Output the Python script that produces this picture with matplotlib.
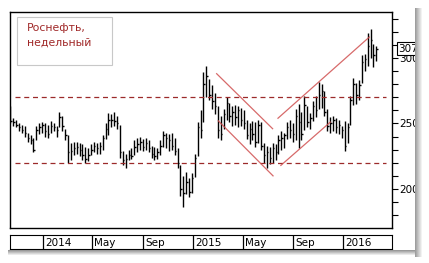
import matplotlib
matplotlib.use("Agg")
import matplotlib.pyplot as plt
import matplotlib.dates as mdates
import matplotlib.ticker as ticker
from matplotlib.patches import Rectangle
import numpy as np
import pandas as pd

# ── Данные: недельные бары Роснефти ─────────────────────────────────────────
start = "2013-10-14"
high = [263, 254, 253, 250, 249, 248, 243, 241, 239, 248, 250, 251, 250, 249, 252, 250,
        248, 259, 256, 246, 241, 235, 236, 236, 235, 234, 232, 231, 234, 236, 235, 236,
        241, 250, 258, 257, 259, 256, 249, 229, 227, 230, 231, 237, 239, 240, 238, 239,
        237, 233, 232, 231, 237, 244, 243, 242, 243, 239, 231, 218, 210, 213, 208, 212,
        227, 251, 260, 289, 294, 284, 279, 273, 263, 256, 261, 270, 266, 263, 264, 263,
        262, 260, 253, 250, 252, 251, 253, 251, 235, 233, 232, 235, 234, 241, 244, 243,
        251, 253, 250, 261, 265, 259, 271, 263, 258, 267, 271, 282, 280, 275, 261, 255,
        256, 254, 253, 248, 252, 250, 271, 285, 281, 283, 302, 303, 319, 322, 311, 309]
low = [250, 248, 247, 244, 243, 240, 236, 234, 228, 237, 242, 243, 240, 239, 243, 244,
       240, 247, 244, 237, 220, 222, 226, 227, 225, 222, 220, 221, 226, 228, 227, 227,
       230, 238, 241, 247, 248, 246, 224, 218, 216, 222, 223, 226, 228, 230, 229, 230,
       228, 224, 222, 223, 226, 232, 231, 229, 230, 226, 216, 195, 186, 196, 194, 197,
       209, 225, 239, 251, 270, 268, 261, 257, 239, 237, 246, 253, 251, 248, 249, 247,
       248, 246, 238, 234, 237, 232, 235, 230, 220, 216, 219, 220, 222, 227, 230, 231,
       238, 239, 236, 237, 231, 237, 245, 247, 246, 252, 255, 261, 262, 256, 244, 243,
       244, 243, 242, 239, 229, 235, 249, 264, 265, 268, 281, 290, 294, 300, 293, 298]
close = [252, 251, 249, 247, 245, 243, 239, 237, 230, 245, 247, 249, 244, 242, 248, 247,
         245, 255, 248, 241, 228, 229, 231, 232, 230, 226, 223, 226, 230, 233, 231, 233,
         239, 246, 253, 253, 252, 250, 228, 222, 223, 226, 225, 232, 234, 236, 232, 235,
         231, 227, 225, 228, 233, 241, 239, 237, 233, 229, 220, 200, 197, 205, 198, 208,
         224, 247, 245, 280, 286, 272, 267, 263, 245, 242, 257, 266, 256, 259, 255, 260,
         253, 250, 241, 246, 242, 236, 249, 233, 226, 228, 224, 231, 228, 237, 239, 241,
         247, 245, 242, 256, 251, 242, 264, 251, 254, 263, 260, 272, 275, 259, 248, 250,
         253, 247, 249, 245, 233, 247, 268, 280, 272, 279, 297, 299, 309, 314, 302, 307]

levels = [270, 220]   # горизонтальные уровни

# трендовые линии: (дата1, цена1, дата2, цена2)
trend_lines = [
    ("2015-02-27", 288, "2015-07-13", 246),
    ("2015-03-03", 252, "2015-07-14", 210),
    ("2015-07-26", 254, "2016-03-04", 316),
    ("2015-08-02", 218, "2015-11-30", 251),
]

month_labels = ["2014", "May", "Sep", "2015", "May", "Sep", "2016"]
month_dates = ["2014-01-01", "2014-05-01", "2014-09-01", "2015-01-01",
               "2015-05-01", "2015-09-01", "2016-01-01"]
# ─────────────────────────────────────────────────────────────────────────────

plt.rcParams["font.family"] = "DejaVu Sans"

W, H = 429, 263
fig = plt.figure(figsize=(W / 100, H / 100), dpi=100, facecolor="white")

def box(x0, y0, x1, y1):
    return [x0 / W, 1 - y1 / H, (x1 - x0) / W, (y1 - y0) / H]

ax = fig.add_axes(box(10, 12, 392, 228))
ax_d = fig.add_axes(box(10, 235, 392, 249))

dates = mdates.date2num(pd.date_range(start, periods=len(close), freq="7D"))
xmin = mdates.datestr2num("2013-10-13")
xmax = mdates.datestr2num("2016-04-28")

ax.vlines(dates, low, high, color="black", lw=1.0)
ax.hlines(close, dates, dates + 3.5, color="black", lw=1.0)

for lv in levels:
    ax.axhline(lv, xmin=0.012, xmax=0.985, color="#9c2a2a", lw=0.9,
               dashes=(4, 3))

for d1, p1, d2, p2 in trend_lines:
    ax.plot([mdates.datestr2num(d1), mdates.datestr2num(d2)], [p1, p2],
            color="#d05050", lw=0.9, alpha=0.85)

ax.set_xlim(xmin, xmax)
ax.set_ylim(170.2, 335.1)
ax.set_xticks([])
ax.yaxis.tick_right()
ax.set_yticks([200, 250, 300])
ax.yaxis.set_minor_locator(ticker.MultipleLocator(10))
ax.tick_params(axis="y", which="major", length=4.5, width=0.8, labelsize=7.5, pad=1)
ax.tick_params(axis="y", which="minor", length=4.5, width=0.8)
for s in ax.spines.values():
    s.set_linewidth(1.0)

# последняя цена в рамке
ax.text(1.017, 307, f"{close[-1]}", transform=ax.get_yaxis_transform(),
        fontsize=7.5, va="center", ha="left",
        bbox=dict(boxstyle="square,pad=0.15", fc="white", ec="black", lw=0.8))

# подпись в рамке
ax.add_patch(Rectangle((7 / 382, 1 - 53 / 216), 95 / 382, 48 / 216,
                       transform=ax.transAxes, fc="white", ec="#c8c8c8",
                       lw=0.8, zorder=3))
ax.text(17 / 382, 1 - 11 / 216, "Роснефть,\nнедельный", transform=ax.transAxes,
        fontsize=7.8, color="#a02828", va="top", ha="left", linespacing=1.55,
        zorder=4)

# полоса с датами
ax_d.set_xlim(xmin, xmax)
ax_d.set_ylim(0, 1)
ax_d.set_xticks([])
ax_d.set_yticks([])
for lbl, d in zip(month_labels, month_dates):
    xd = mdates.datestr2num(d)
    ax_d.axvline(xd, color="black", lw=0.9)
    ax_d.text(xd + 5, 0.45, lbl, fontsize=7.5, va="center", ha="left")

# тень справа и снизу
sh_r = fig.add_axes(box(415, 8, 429, 257), zorder=10)
grad_r = np.concatenate([np.linspace(0.62, 1.0, 8), np.ones(6)])
sh_r.imshow(grad_r[None, :], cmap="gray", vmin=0, vmax=1, aspect="auto")
sh_r.axis("off")
sh_b = fig.add_axes(box(8, 250, 415, 263), zorder=10)
grad_b = np.concatenate([np.linspace(0.6, 1.0, 6), np.ones(7)])
sh_b.imshow(grad_b[:, None], cmap="gray", vmin=0, vmax=1, aspect="auto")
sh_b.axis("off")

fig.savefig("out.png", dpi=100, facecolor="white")
